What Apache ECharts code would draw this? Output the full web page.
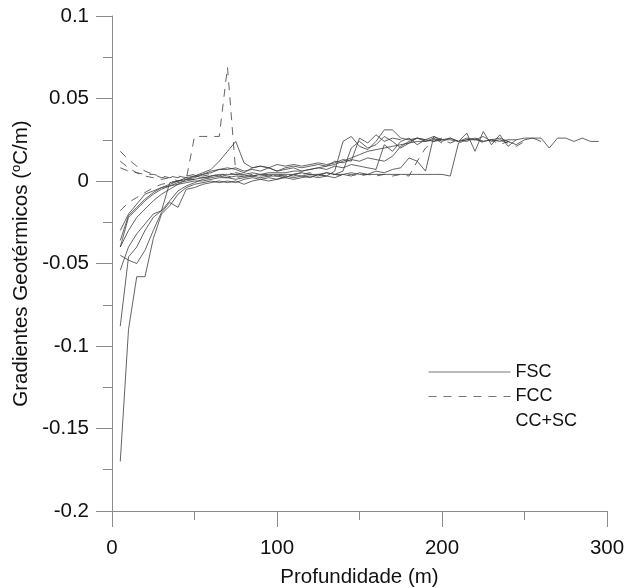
<!DOCTYPE html>
<html>
<head>
<meta charset="utf-8">
<script src="https://cdn.jsdelivr.net/npm/echarts@6/dist/echarts.min.js"></script>
<style>html,body{margin:0;padding:0;background:#fff}#c{width:624px;height:588px}</style>
</head>
<body>
<div id="c"></div>
<script>
// depth axis (m), 5 m step
const depths = [5,10,15,20,25,30,35,40,45,50,55,60,65,70,75,80,85,90,95,100,105,110,115,120,125,130,135,140,145,150,155,160,165,170,175,180,185,190,195,200,205,210,215,220,225,230,235,240,245,250,255,260,265,270,275,280,285,290,295];
const xTicks = [0,100,200,300];
const yTicks = [-0.2,-0.15,-0.1,-0.05,0,0.05,0.1];

// FSC (solid) profiles
const fsc1 = [-0.040,-0.022,-0.017,-0.012,-0.008,-0.005,-0.003,-0.001,0.000,0.001,
 0.002,0.003,0.004,0.004,0.004,0.004,0.005,0.004,0.005,0.005,
 0.005,0.006,0.006,0.007,0.008,0.009,0.010,0.012,0.014,0.016,
 0.018,0.019,0.020,0.021,0.022,0.023,0.024,0.024,0.025,0.025,
 0.025,0.024,0.025,0.025,0.024,0.025,0.024,0.025,0.025,0.026,
 0.026,0.026,0.020,0.026,0.026,0.024,0.026,0.024,0.024];
const fsc2 = [-0.170,-0.090,-0.058,-0.058,-0.035,-0.020,-0.015,-0.008,-0.004,-0.002,
 -0.001,0.000,-0.001,0.000,-0.001,0.001,0.002,0.001,0.002,0.001,
 0.003,0.002,0.003,0.002,0.004,0.003,0.006,0.024,0.027,0.021,
 0.019,0.024,0.031,0.031,0.026,0.025,0.026,0.024,0.026,0.023];
const fsc3 = [-0.088,-0.046,-0.040,-0.030,-0.022,-0.018,-0.012,-0.006,-0.003,-0.001,
 0.001,0.002,0.003,0.002,0.001,0.002,0.003,0.002,0.003,0.003,
 0.002,0.004,0.003,0.004,0.003,0.005,0.004,0.006,0.020,0.024,
 0.020,0.022,0.027,0.024,0.020,0.023,0.026,0.025];
const fsc4 = [-0.054,-0.040,-0.032,-0.026,-0.020,-0.018,-0.001,0.000,0.002,0.003,
 0.004,0.006,0.007,0.007,0.008,0.006,0.007,0.006,0.008,0.006,
 0.007,0.008,0.006,0.007,0.008,0.007,0.009,0.008,0.010,0.009,
 0.008,0.007,0.022,0.018,0.024,0.026,0.022,0.025,0.027,0.024,
 0.026,0.024,0.029,0.018,0.030,0.022,0.028,0.021,0.025];
const fsc5 = [-0.045,-0.048,-0.050,-0.042,-0.030,-0.019,-0.013,-0.016,-0.005,-0.004,
 -0.002,-0.001,0.000,-0.001,0.000,-0.002,0.000,0.001,0.000,0.001,
 0.002,0.001,0.002,0.003,0.002,0.003,0.002,0.004,0.003,0.005,
 0.004,0.006,0.005,0.007,0.008,0.014,0.012,0.006,0.027,0.025,
 0.026,0.024,0.026,0.025,0.027,0.024,0.025,0.023];
const fsc6 = [-0.036,-0.021,-0.016,-0.011,-0.007,-0.004,-0.002,0.000,0.001,0.002,
 0.004,0.005,0.007,0.008,0.007,0.005,0.008,0.009,0.008,0.006,
 0.008,0.009,0.008,0.009,0.010,0.009,0.012,0.011,0.013,0.012,
 0.014,0.013,0.012,0.015,0.021,0.024,0.026,0.025,0.024,0.026];
const fsc7 = [-0.030,-0.020,-0.014,-0.008,-0.006,-0.004,-0.003,-0.002,-0.001,0.000,
 0.000,0.001,0.002,0.002,0.003,0.003,0.003,0.004,0.004,0.004,
 0.004,0.004,0.005,0.004,0.004,0.005,0.004,0.004,0.005,0.004,
 0.004,0.004,0.004,0.004,0.004,0.004,0.004,0.004,0.004,0.004,
 0.003,0.023,0.025,0.026,0.024,0.025,0.026,0.024,0.022,0.025,
 0.026,0.024];
const fsc8 = [-0.040,-0.030,-0.022,-0.017,-0.012,-0.008,-0.005,-0.002,0.001,0.003,
 0.005,0.007,0.012,0.018,0.024,0.011,0.008,0.009,0.008,0.010,
 0.009,0.010,0.009,0.010,0.011,0.010,0.011,0.013,0.012,0.026,
 0.023,0.028,0.024,0.026,0.025];

// FCC (dashed) profiles
const fcc1 = [0.012,0.008,0.005,0.003,0.002,0.001,0.002,0.000,0.001,0.027,
 0.027,0.027,0.027,0.069,0.005,0.004,0.003,0.004,0.003,0.004,
 0.003,0.004,0.005,0.004];
const fcc2 = [0.018,0.013,0.009,0.006,0.004,0.002,0.003,0.002,0.003,0.004,
 0.003,0.004,0.003,0.005,0.004,0.003,0.004,0.003,0.004,0.003,
 0.004,0.003,0.004,0.005,0.004,0.003,0.004,0.003,0.004,0.003,
 0.004,0.003,0.004,0.003,0.004,0.003,0.012,0.020,0.024,0.025,
 0.023,0.025,0.024,0.026,0.023,0.025,0.022,0.024,0.021,0.024];
const fcc3 = [0.008,0.006,0.005,0.004,0.004,0.003,0.002,0.003,0.002,0.003,
 0.002,0.003,0.004,0.003,0.002,0.003];
const fcc4 = [-0.018,-0.013,-0.010,-0.007,-0.004,-0.002,-0.001,0.000,0.001,0.001,0.002,0.002];

const legendNames = ['FSC','FCC','CC+SC'];

const FONT = 'Liberation Sans, Arial, sans-serif';
const LINE_COLOR = '#3c3c3c';
const AXIS_COLOR = '#8a8a8a';
const AXIS_FONT = 20.5;

function pairs(vals){ return vals.map((v,i)=>[depths[i], v]); }
function solid(vals){
  return {name:'FSC', type:'line', data:pairs(vals), symbol:'none', silent:true,
    lineStyle:{color:LINE_COLOR, width:0.8, type:'solid'}, itemStyle:{color:LINE_COLOR}};
}
function dashed(vals){
  return {name:'FCC', type:'line', data:pairs(vals), symbol:'none', silent:true,
    lineStyle:{color:LINE_COLOR, width:0.8, type:[8,7]}, itemStyle:{color:LINE_COLOR}};
}

const series = [fsc1,fsc2,fsc3,fsc4,fsc5,fsc6,fsc7,fsc8].map(solid)
  .concat([fcc1,fcc2,fcc3,fcc4].map(dashed));
series.push({name:'CC+SC', type:'line', data:[], symbol:'none',
  lineStyle:{color:'rgba(0,0,0,0)', width:0}, itemStyle:{color:'rgba(0,0,0,0)'}});

const chart = echarts.init(document.getElementById('c'), null, {renderer:'canvas'});
chart.setOption({
  animation:false,
  backgroundColor:'#fff',
  textStyle:{fontFamily:FONT},
  grid:{left:112, right:17, top:16, bottom:77, containLabel:false, outerBoundsMode:'none'},
  legend:{
    orient:'vertical', left:428, top:363, padding:0, itemWidth:82, itemHeight:14, itemGap:6.5,
    selectedMode:false,
    itemStyle:{opacity:0},
    textStyle:{fontSize:18, color:'#111', fontFamily:FONT},
    data:[
      {name:legendNames[0], lineStyle:{color:'#777', width:1}, itemStyle:{opacity:0}},
      {name:legendNames[1], lineStyle:{color:'#777', width:1}, itemStyle:{opacity:0}},
      {name:legendNames[2], lineStyle:{opacity:0}, itemStyle:{opacity:0}}
    ]
  },
  xAxis:{
    type:'value', min:xTicks[0], max:xTicks[xTicks.length-1], interval:100,
    name:'Profundidade (m)', nameLocation:'middle', nameGap:56,
    nameTextStyle:{fontSize:AXIS_FONT, color:'#111', fontFamily:FONT},
    axisLine:{show:true, onZero:false, lineStyle:{color:AXIS_COLOR, width:1}},
    axisTick:{show:true, inside:false, length:16, lineStyle:{color:AXIS_COLOR}},
    minorTick:{show:true, splitNumber:2, length:9, lineStyle:{color:AXIS_COLOR}},
    axisLabel:{fontSize:AXIS_FONT, color:'#111', margin:27, fontFamily:FONT},
    splitLine:{show:false}
  },
  yAxis:{
    type:'value', min:yTicks[0], max:yTicks[yTicks.length-1], interval:0.05,
    name:'Gradientes Geotérmicos ({s|o}C/m)', nameLocation:'middle', nameGap:76,
    nameTextStyle:{fontSize:AXIS_FONT, color:'#111', fontFamily:FONT,
      rich:{s:{fontSize:13, color:'#111', fontFamily:FONT, padding:[0,0,8,0]}}},
    axisLine:{show:true, onZero:false, lineStyle:{color:AXIS_COLOR, width:1}},
    axisTick:{show:true, inside:false, length:16, lineStyle:{color:AXIS_COLOR}},
    minorTick:{show:true, splitNumber:2, length:9, lineStyle:{color:AXIS_COLOR}},
    axisLabel:{fontSize:AXIS_FONT, color:'#111', margin:23, fontFamily:FONT},
    splitLine:{show:false}
  },
  series:series
});
</script>
</body>
</html>
